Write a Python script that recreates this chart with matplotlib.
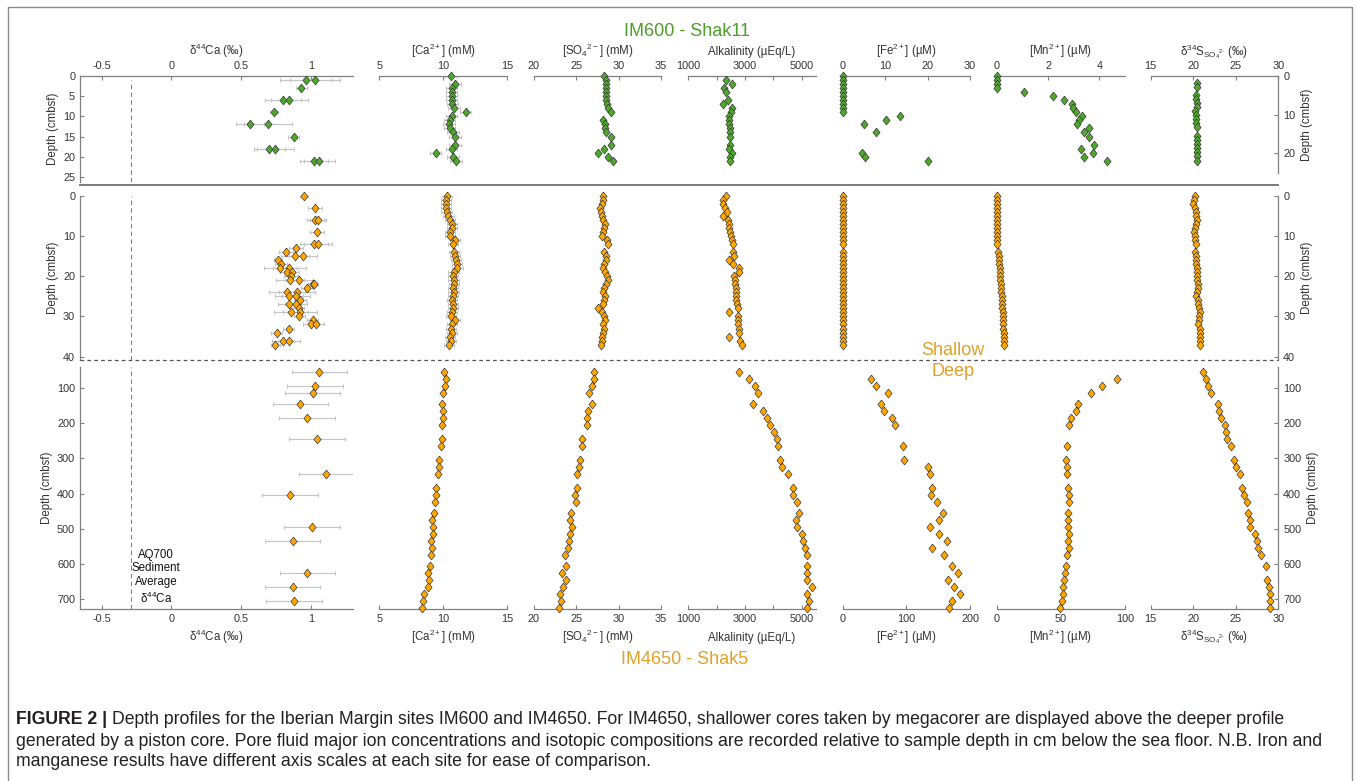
import matplotlib
matplotlib.use('Agg')
import matplotlib.pyplot as plt
from matplotlib.lines import Line2D
from matplotlib.patches import Rectangle

W, H = 1356, 781
plt.rcParams['font.family'] = ['Liberation Sans', 'DejaVu Sans']
plt.rcParams['mathtext.fontset'] = 'custom'
plt.rcParams['mathtext.rm'] = 'Liberation Sans'
plt.rcParams['mathtext.it'] = 'Liberation Sans:italic'
plt.rcParams['mathtext.bf'] = 'Liberation Sans:bold'
plt.rcParams['mathtext.default'] = 'regular'

# ---------------- DATA ----------------
# IM600 - Shak11 (top row)
ca44_600_depth = [1, 1, 3, 6, 6, 9, 12, 12, 15, 18, 18, 21, 21]
ca44_600 = [0.96, 1.03, 0.93, 0.80, 0.845, 0.735, 0.565, 0.69, 0.875, 0.70, 0.745, 1.02, 1.06]
ca44_600_err = [0.18, 0.18, 0.04, 0.13, 0.13, 0.03, 0.10, 0.17, 0.04, 0.11, 0.13, 0.10, 0.11]

ca_600_depth = [0, 2, 3, 4, 5, 6, 7, 8, 9, 10, 11, 12, 13, 14, 15, 17, 18, 19, 20, 21]
ca_600 = [10.6, 10.9, 10.65, 10.65, 10.65, 10.65, 10.7, 10.85, 11.75, 10.65, 10.5, 10.45,
          10.5, 10.75, 10.9, 10.9, 10.65, 9.4, 10.75, 11.0]

so4_600_depth = [0, 1, 2, 3, 4, 5, 6, 7, 8, 9, 11, 12, 13, 14, 15, 17, 18, 19, 20, 21]
so4_600 = [28.3, 28.5, 28.45, 28.45, 28.45, 28.45, 28.45, 28.6, 28.7, 29.1, 28.1, 28.4,
           28.4, 28.5, 29.05, 29.15, 28.3, 27.6, 28.7, 29.35]

alk_600_depth = [1, 2, 3, 4, 6, 7, 8, 9, 10, 11, 12, 13, 14, 15, 17, 18, 19, 20, 21]
alk_600 = [2330, 2550, 2270, 2330, 2410, 2210, 2540, 2500, 2450, 2450, 2450, 2470, 2470,
           2470, 2470, 2450, 2540, 2470, 2470]

fe_600_depth = [0, 1, 2, 3, 4, 5, 6, 7, 8, 9, 10, 11, 12, 14, 19, 20, 21]
fe_600 = [0, 0, 0, 0, 0, 0, 0, 0, 0, 0, 13.6, 10.2, 5.0, 7.9, 4.5, 5.25, 20.0]

mn_600_depth = [0, 1, 2, 3, 4, 5, 6, 7, 8, 9, 10, 11, 12, 13, 14, 15, 17, 18, 19, 20, 21]
mn_600 = [0, 0, 0, 0, 1.07, 2.2, 2.62, 2.95, 2.96, 3.09, 3.33, 3.22, 3.12, 3.58, 3.4, 3.58,
          3.81, 3.3, 3.75, 3.4, 4.31]

d34s_600_depth = [1.7, 2.8, 4.9, 5.9, 7.1, 7.9, 9.0, 10.1, 11.1, 12.2, 13.3, 15.5, 16.5,
                  17.6, 18.7, 19.7, 20.8, 21.9]
d34s_600 = [20.4, 20.45, 20.35, 20.3, 20.4, 20.45, 20.15, 20.3, 20.35, 20.35, 20.4, 20.4,
            20.4, 20.4, 20.4, 20.4, 20.4, 20.4]

# IM4650 shallow (middle row)
ca44_sh_depth = [0, 3, 6, 6, 9, 12, 12, 13, 14, 15, 15, 16, 17, 18, 18, 19, 19, 20, 21, 21,
                 22, 22, 23, 24, 24, 25, 25, 26, 27, 27, 28, 29, 29, 30, 31, 32, 32, 33, 34,
                 36, 36, 37]
ca44_sh = [0.95, 1.03, 1.03, 1.05, 1.045, 1.02, 1.05, 0.895, 0.82, 0.885, 0.94, 0.765, 0.785,
           0.78, 0.845, 0.825, 0.86, 0.855, 0.85, 0.91, 1.01, 1.02, 0.97, 0.825, 0.90, 0.84,
           0.89, 0.92, 0.845, 0.89, 0.91, 0.855, 0.92, 0.915, 1.01, 1.0, 1.035, 0.84, 0.755,
           0.80, 0.84, 0.745]
ca44_sh_err = [0.03, 0.05, 0.06, 0.06, 0.05, 0.1, 0.1, 0.05, 0.05, 0.1, 0.1, 0.03, 0.04, 0.12,
               0.12, 0.05, 0.05, 0.05, 0.1, 0.1, 0.03, 0.03, 0.04, 0.13, 0.13, 0.1, 0.1, 0.04,
               0.08, 0.08, 0.04, 0.12, 0.12, 0.04, 0.04, 0.06, 0.06, 0.04, 0.04, 0.08, 0.08,
               0.03]

sh_depth = [0, 1, 2, 3, 4, 5, 6, 7, 8, 9, 10, 11, 12, 14, 15, 16, 17, 18, 19, 20, 21, 22, 23,
            24, 25, 26, 27, 28, 29, 30, 31, 32, 33, 34, 35, 36, 37]
ca_sh = [10.26, 10.2, 10.2, 10.2, 10.25, 10.4, 10.5, 10.65, 10.7, 10.5, 10.5, 10.9, 10.75,
         10.85, 10.9, 11.0, 11.05, 11.1, 10.8, 10.75, 10.8, 10.85, 10.75, 10.8, 10.75, 10.65,
         10.75, 10.75, 10.65, 10.6, 10.9, 10.65, 10.6, 10.65, 10.55, 10.6, 10.45]
so4_sh = [28.13, 28.2, 28.0, 27.8, 27.88, 28.09, 28.2, 28.39, 28.26, 28.2, 28.09, 28.59, 28.71,
          28.3, 28.5, 28.46, 28.26, 28.2, 28.39, 28.59, 28.79, 28.5, 28.3, 28.2, 28.43, 28.26,
          28.2, 27.6, 28.0, 28.26, 28.39, 28.2, 28.3, 28.2, 28.09, 28.0, 27.88]
alk_sh = [2320, 2240, 2210, 2290, 2350, 2240, 2410, 2420, 2450, 2470, 2500, 2540, 2580, 2590,
          2600, 2450, 2590, 2790, 2790, 2610, 2650, 2650, 2670, 2690, 2690, 2700, 2710, 2740,
          2450, 2760, 2760, 2760, 2790, 2790, 2450, 2820, 2880]
fe_sh = [0, 0, 0, 0, 0, 0, 0, 0, 0, 0, 0, 0, 0, 0, 0, 0, 0, 0, 0, 0, 0, 0, 0, 0, 0, 0, 0, 0,
         0, 0, 0, 0, 0, 0, 0, 0, 0]
mn_sh = [0, 0, 0.1, 0.2, 0.3, 0.3, 0.4, 0.4, 0.5, 0.5, 0.5, 0.6, 0.6, 1.3, 1.6, 1.9, 2.1, 2.3,
         2.5, 2.6, 2.9, 3.1, 3.3, 3.6, 3.9, 4.1, 4.3, 4.4, 4.6, 4.7, 4.9, 5.1, 5.2, 5.4, 5.5,
         5.6, 5.7]
d34s_sh = [20.2, 20.1, 20.0, 20.2, 20.3, 20.35, 20.45, 20.3, 20.2, 20.1, 20.2, 20.25, 20.3,
           20.2, 20.3, 20.3, 20.3, 20.4, 20.45, 20.45, 20.5, 20.55, 20.55, 20.5, 20.3, 20.55,
           20.6, 20.65, 20.75, 20.65, 20.65, 20.6, 20.75, 20.85, 20.85, 20.85, 20.85]

# IM4650 deep (bottom row)
ca44_dp_depth = [55, 95, 115, 145, 185, 245, 345, 405, 495, 535, 625, 665, 705]
ca44_dp = [1.06, 1.03, 1.01, 0.924, 0.971, 1.043, 1.11, 0.848, 1.007, 0.867, 0.974, 0.867, 0.879]
ca44_dp_err = [0.2, 0.2, 0.2, 0.2, 0.2, 0.2, 0.2, 0.2, 0.2, 0.2, 0.2, 0.2, 0.2]

ion_dp_depth = [55, 75, 95, 115, 145, 165, 185, 205, 245, 265, 305, 325, 345, 385, 405, 425,
                455, 475, 495, 515, 535, 555, 575, 605, 625, 645, 665, 685, 705, 725]
ca_dp = [10.08, 10.21, 10.13, 10.0, 9.87, 10.0, 9.95, 9.87, 9.92, 9.82, 9.66, 9.66, 9.59, 9.43,
         9.43, 9.35, 9.3, 9.12, 9.22, 9.2, 9.04, 9.12, 9.02, 8.96, 8.83, 8.91, 8.78, 8.52, 8.44,
         8.31]
so4_dp = [27.12, 27.12, 26.81, 26.53, 26.88, 26.34, 26.22, 26.22, 25.71, 25.71, 25.47, 25.31,
          25.04, 25.12, 24.88, 24.92, 24.33, 24.29, 24.49, 24.25, 24.17, 24.05, 23.7, 23.74,
          23.31, 23.74, 23.39, 23.07, 23.15, 22.99]

alk_dp_depth = [55, 75, 95, 115, 145, 165, 185, 205, 225, 245, 265, 305, 325, 345, 385, 405,
                425, 455, 475, 495, 515, 535, 555, 575, 605, 625, 645, 665, 685, 705, 725]
alk_dp = [2777, 3130, 3364, 3470, 3270, 3623, 3787, 3882, 4011, 4140, 4175, 4235, 4305, 4528,
          4705, 4682, 4823, 4915, 4800, 4845, 5021, 5035, 5116, 5176, 5176, 5176, 5176, 5353,
          5176, 5258, 5176]

femn_dp_depth = [75, 95, 115, 145, 165, 185, 205, 265, 305, 325, 345, 385, 405, 425, 455, 475,
                 495, 515, 535, 555, 575, 605, 625, 645, 665, 685, 705, 725]
fe_dp = [44.5, 51.8, 70.7, 59.7, 64.9, 77, 82.2, 95.2, 96.8, 133.5, 137, 139.7, 138.7, 148.6,
         157, 151.7, 137.2, 151.7, 163.4, 140.8, 159.7, 172.3, 181.8, 166, 175, 184.3, 171.2,
         166.9]
mn_dp = [93.5, 81.8, 73.5, 63.1, 61.6, 57.9, 56.4, 54.8, 53.8, 54.8, 54.5, 55.8, 56.1, 56.6,
         55.8, 55.8, 55.3, 56.6, 55.8, 56.1, 54.5, 54, 53.3, 52.5, 52, 51.5, 51.2, 49.6]

d34s_dp_depth = [55, 75, 95, 115, 145, 165, 185, 205, 225, 245, 265, 305, 325, 345, 385, 405,
                 425, 455, 475, 495, 515, 535, 555, 575, 605, 645, 665, 685, 705, 725]
d34s_dp = [21.11, 21.5, 21.7, 22.09, 22.87, 23.03, 23.26, 23.73, 23.81, 24.0, 24.4, 24.79,
           24.99, 25.5, 25.77, 25.97, 26.36, 26.48, 26.67, 26.7, 27.26, 27.46, 27.65, 27.93,
           28.55, 28.63, 28.94, 29.02, 29.02, 29.02]

aq700_d44ca = -0.29

col_labels = ['δ$^{44}$Ca (‰)', '[Ca$^{2+}$] (mM)', '[SO$_4$$^{2−}$] (mM)', 'Alkalinity (µEq/L)',
              '[Fe$^{2+}$] (µM)', '[Mn$^{2+}$] (µM)', 'δ$^{34}$S$_{SO_4{}^{2\\text{-}}}$ (‰)']

# ---------------- STYLE ----------------
GREEN = '#4FA82C'
ORANGE = '#FFA700'
GREEN_T = '#4C9E26'
ORANGE_T = '#E2A02A'
SPINE = '#808080'
TXT = '#333333'

fig = plt.figure(figsize=(W / 100, H / 100), dpi=100)

def px_ax(x0, x1, y0, y1):
    return fig.add_axes([x0 / W, 1 - y1 / H, (x1 - x0) / W, (y1 - y0) / H])

cols = [(80, 353), (379.3, 507.3), (534, 661), (688.3, 815.7), (842.7, 970),
        (996.7, 1125), (1150.7, 1278.3)]

xlims_top = [(-0.655, 1.3), (5, 15), (20, 35), (1000, 5500), (0, 30), (0, 5), (15, 30)]
xlims_bot = [(-0.655, 1.3), (5, 15), (20, 35), (1000, 5500), (0, 200), (0, 100), (15, 30)]
xticks_top = [[-0.5, 0, 0.5, 1], [5, 10, 15], [20, 25, 30, 35], [1000, 2000, 3000, 4000, 5000],
              [0, 10, 20, 30], [0, 2, 4], [15, 20, 25, 30]]
xticks_bot = [[-0.5, 0, 0.5, 1], [5, 10, 15], [20, 25, 30, 35], [1000, 2000, 3000, 4000, 5000],
              [0, 100, 200], [0, 50, 100], [15, 20, 25, 30]]
xticklabels_fn = [lambda v: ('%g' % v), lambda v: '%g' % v, lambda v: '%g' % v,
                  lambda v: ('%d' % v) if v in (1000, 3000, 5000) else '',
                  lambda v: '%g' % v, lambda v: '%g' % v, lambda v: '%g' % v]

DIAMOND = [(0, 1), (0.8, 0), (0, -1), (-0.8, 0), (0, 1)]

def plot_pts(ax, x, y, color, err=None):
    if err is not None:
        ax.errorbar(x, y, xerr=err, fmt='none', ecolor='#c4c4c4', elinewidth=0.8,
                    capsize=1.6, capthick=0.8, zorder=1)
    ax.plot(x, y, linestyle='none', marker=DIAMOND, markersize=6.4, markerfacecolor=color,
            markeredgecolor='#3a3a3a', markeredgewidth=0.5, zorder=3, clip_on=False)

def style(ax, row, ci, y0=None, y1=None):
    for s in ax.spines.values():
        s.set_visible(False)
        s.set_color(SPINE)
        s.set_linewidth(0.9)
    ax.set_facecolor('none')
    ax.tick_params(direction='in', length=3, width=0.8, color=SPINE, labelsize=7.8,
                   labelcolor=TXT, pad=3.5)
    if row == 'top':
        ax.spines['top'].set_visible(True)
        ax.xaxis.tick_top()
        ax.xaxis.set_label_position('top')
        ax.set_xticks(xticks_top[ci])
        ax.set_xticklabels([xticklabels_fn[ci](v) for v in xticks_top[ci]])
        ax.set_xlim(*xlims_top[ci])
        lab = ax.set_xlabel(col_labels[ci], fontsize=8.3, color=TXT)
        ax.xaxis.set_label_coords(0.5, (y1 - 55.5) / (y1 - y0))
        lab.set_va('baseline')
    elif row == 'bot':
        ax.spines['bottom'].set_visible(True)
        ax.set_xticks(xticks_bot[ci])
        ax.set_xticklabels([xticklabels_fn[ci](v) for v in xticks_bot[ci]])
        ax.set_xlim(*xlims_bot[ci])
        lab = ax.set_xlabel(col_labels[ci], fontsize=8.3, color=TXT)
        ax.xaxis.set_label_coords(0.5, (y1 - 640.5) / (y1 - y0))
        lab.set_va('baseline')
    else:
        ax.set_xticks([])
        ax.set_xlim(*xlims_bot[ci])
    if ci == 0:
        ax.spines['left'].set_visible(True)
        ax.set_ylabel('Depth (cmbsf)', fontsize=8.3, color=TXT, labelpad=3)
    elif ci == 6:
        ax.spines['right'].set_visible(True)
        ax.yaxis.tick_right()
        ax.yaxis.set_label_position('right')
        ax.set_ylabel('Depth (cmbsf)', fontsize=8.3, color=TXT, labelpad=4)
    else:
        ax.set_yticks([])

# ---- top row (IM600)
top_data = [(ca44_600, ca44_600_depth, ca44_600_err), (ca_600, ca_600_depth, [0.45] * len(ca_600)),
            (so4_600, so4_600_depth, None), (alk_600, alk_600_depth, None),
            (fe_600, fe_600_depth, None), (mn_600, mn_600_depth, None),
            (d34s_600, d34s_600_depth, None)]
for ci, (x0, x1) in enumerate(cols):
    if ci == 6:
        ax = px_ax(x0, x1, 76, 173.3)
        ax.set_ylim(25.2, 0)
        style(ax, 'top', ci, 76, 173.3)
    else:
        ax = px_ax(x0, x1, 76, 181.7)
        ax.set_ylim(26.2, 0)
        style(ax, 'top', ci, 76, 181.7)
    if ci == 0:
        ax.set_yticks([0, 5, 10, 15, 20, 25])
        ax.axvline(aq700_d44ca, color='#808080', lw=0.8, dashes=(4, 3), ymax=0.96)
    if ci == 6:
        ax.set_yticks([0, 10, 20])
    xv, yv, ev = top_data[ci]
    plot_pts(ax, xv, yv, GREEN, ev)

# ---- middle row (IM4650 shallow)
mid_data = [(ca44_sh, ca44_sh_depth, ca44_sh_err), (ca_sh, sh_depth, [0.4] * len(ca_sh)),
            (so4_sh, sh_depth, None), (alk_sh, sh_depth, None), (fe_sh, sh_depth, None),
            (mn_sh, sh_depth, None), (d34s_sh, sh_depth, None)]
for ci, (x0, x1) in enumerate(cols):
    ax = px_ax(x0, x1, 195.7, 360.3)
    ax.set_ylim(40.9, 0)
    style(ax, 'mid', ci)
    if ci in (0, 6):
        ax.set_yticks([0, 10, 20, 30, 40])
    if ci == 0:
        ax.axvline(aq700_d44ca, color='#808080', lw=0.8, dashes=(4, 3))
    xv, yv, ev = mid_data[ci]
    plot_pts(ax, xv, yv, ORANGE, ev)

# ---- bottom row (IM4650 deep)
bot_data = [(ca44_dp, ca44_dp_depth, ca44_dp_err), (ca_dp, ion_dp_depth, None),
            (so4_dp, ion_dp_depth, None), (alk_dp, alk_dp_depth, None),
            (fe_dp, femn_dp_depth, None), (mn_dp, femn_dp_depth, None),
            (d34s_dp, d34s_dp_depth, None)]
for ci, (x0, x1) in enumerate(cols):
    ax = px_ax(x0, x1, 366.7, 609.3)
    ax.set_ylim(728, 40)
    style(ax, 'bot', ci, 366.7, 609.3)
    if ci in (0, 6):
        ax.set_yticks([100, 200, 300, 400, 500, 600, 700])
    if ci == 0:
        ax.axvline(aq700_d44ca, color='#808080', lw=0.8, dashes=(4, 3))
        ax.text(-0.11, 637, 'AQ700\nSediment\nAverage\nδ$^{44}$Ca',
                ha='center', va='center', fontsize=8.3, color='#111111', linespacing=1.2)
    xv, yv, ev = bot_data[ci]
    plot_pts(ax, xv, yv, ORANGE, ev)

# ---- separator lines
fig.add_artist(Line2D([80 / W, 1278.3 / W], [1 - 185 / H] * 2, transform=fig.transFigure,
                      color='#7a7a7a', lw=1.4))
fig.add_artist(Line2D([80 / W, 1278.3 / W], [1 - 360.3 / H] * 2, transform=fig.transFigure,
                      color='#555555', lw=0.9, dashes=(3, 2.5)))

# ---- titles / labels
fig.text(686.7 / W, 1 - 31.7 / H, 'IM600 - Shak11', color=GREEN_T, fontsize=13,
         ha='center', va='center')
fig.text(685 / W, 1 - 660 / H, 'IM4650 - Shak5', color=ORANGE_T, fontsize=13,
         ha='center', va='center')
fig.text(952.7 / W, 1 - 350.7 / H, 'Shallow', color=ORANGE_T, fontsize=13, ha='center', va='center')
fig.text(952.7 / W, 1 - 371.7 / H, 'Deep', color=ORANGE_T, fontsize=13, ha='center', va='center')

# ---- frame
fig.add_artist(Rectangle((8 / W, -0.05), (1352 - 8) / W, 1 - 7 / H + 0.05,
                         transform=fig.transFigure, fill=False, ec='#8a8a8a', lw=1.0))

# ---- caption
cap_bold = 'FIGURE 2 |'
cap_lines = ['Depth profiles for the Iberian Margin sites IM600 and IM4650. For IM4650, shallower '
             'cores taken by megacorer are displayed above the deeper profile',
             'generated by a piston core. Pore fluid major ion concentrations and isotopic '
             'compositions are recorded relative to sample depth in cm below the sea floor. '
             'N.B. Iron and',
             'manganese results have different axis scales at each site for ease of comparison.']
cap_y = [720, 741, 762]
cap_fam = ['Liberation Sans', 'DejaVu Sans']
fs = 11
x_start = 16
fig.canvas.draw()
r = fig.canvas.get_renderer()
tb = fig.text(x_start / W, 1 - cap_y[0] / H, cap_bold, fontsize=fs, fontweight='bold',
              family=cap_fam, va='center', ha='left', color='#231f20')
bw = tb.get_window_extent(r).width
t1 = fig.text((x_start + bw + 4) / W, 1 - cap_y[0] / H, cap_lines[0], fontsize=fs,
              family=cap_fam, va='center', ha='left', color='#231f20')
tot = bw + 4 + t1.get_window_extent(r).width
scale = (1279 - x_start) / tot
fs2 = fs * scale
tb.set_fontsize(fs2)
t1.set_fontsize(fs2)
bw = tb.get_window_extent(r).width
t1.set_x((x_start + bw + 4 * scale) / W)
for line, yy in zip(cap_lines[1:], cap_y[1:]):
    fig.text(x_start / W, 1 - yy / H, line, fontsize=fs2, family=cap_fam, va='center',
             ha='left', color='#231f20')

fig.savefig('out.png', dpi=100)
